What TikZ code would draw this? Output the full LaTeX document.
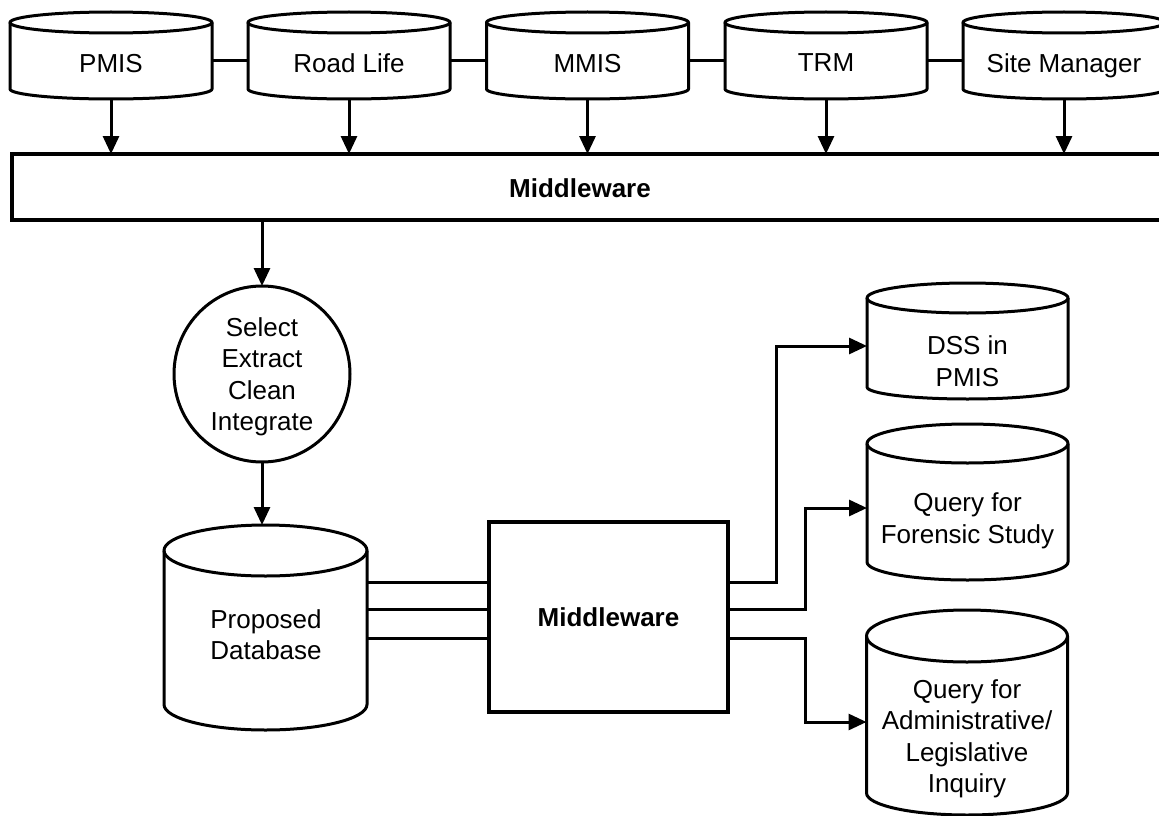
\documentclass[tikz,border=0pt]{standalone}
\usepackage{fontspec}
\setmainfont{Liberation Sans}
\usetikzlibrary{arrows.meta}

\tikzset{
  outline/.style={line width=3pt, line join=round},
  link/.style={line width=3pt},
  arr/.style={link, -{Triangle[length=18pt,width=16pt]}},
  txt/.style={inner sep=0pt, outer sep=0pt, align=center, text depth=0pt,
              font=\fontsize{26}{31.5}\selectfont},
  boldtxt/.style={txt, font=\fontsize{26}{31.5}\selectfont\bfseries},
}

% database drum: #1 name, #2 centre x, #3 half width, #4 top y, #5 bottom y,
% #6 radius of the top ellipse, #7 radius of the bottom arc
\newcommand\drum[7]{%
  \draw[outline] ({#2-#3},{#4+#6}) -- ({#2-#3},{#5-#7})
    arc[start angle=180, end angle=360, x radius=#3pt, y radius=#7pt]
    -- ({#2+#3},{#4+#6});
  \draw[outline] (#2,{#4+#6}) ellipse[x radius=#3pt, y radius=#6pt];
  \node[inner sep=0pt, outer sep=0pt, minimum width={2*#3},
        minimum height={#5-#4}] (#1) at (#2,{(#4+#5)/2}) {};
}

\begin{document}
\begin{tikzpicture}[x=1pt, y=-1pt]
\useasboundingbox (0,0) rectangle (1159,816);

% source systems
\drum{pmis}{111}{101}{12}{99}{10.5}{10}
\drum{road}{349}{101}{12}{99}{10.5}{10}
\drum{mmis}{587.5}{101}{12}{99}{10.5}{10}
\drum{trm}{826}{101}{12}{99}{10.5}{10}
\drum{site}{1064}{101}{12}{99}{10.5}{10}
\node[txt] (pmis-t) at (111,63) {PMIS};
\node[txt] (road-t) at (349,63) {Road Life};
\node[txt] (mmis-t) at (587.5,63) {MMIS};
\node[txt] (trm-t) at (826,63) {TRM};
\node[txt] (site-t) at (1064,63) {Site Manager};

\coordinate (t) at (0,61);
\draw[link] (pmis.east |- t) -- (road.west |- t);
\draw[link] (road.east |- t) -- (mmis.west |- t);
\draw[link] (mmis.east |- t) -- (trm.west |- t);
\draw[link] (trm.east |- t) -- (site.west |- t);

% upper middleware bar
\node[draw, line width=3.6pt, inner sep=0pt, outer sep=0pt,
      minimum width=1170, minimum height=66] (mw1) at (597,187) {};
\node[boldtxt] (mw1-t) at (580,188) {Middleware};

\foreach \s in {pmis,road,mmis,trm,site}
  \draw[arr] (\s.south) -- (\s.south |- mw1.north);

% extraction step
\node[draw, outline, circle, minimum size=176, txt] (sel) at (262,374)
  {Select\\Extract\\Clean\\Integrate};
\draw[arr] (mw1.south -| sel.north) -- (sel.north);

% proposed database
\drum{db}{265.5}{101.5}{525}{730}{25.5}{25.5}
\node[txt] (db-t) at (266,634.5) {Proposed\\Database};
\draw[arr] (sel.south) -- (sel.south |- db.north);

% lower middleware
\node[draw, line width=3.4pt, minimum width=239, minimum height=190, boldtxt]
  (mw2) at (608.5,617) {Middleware};

\coordinate (r1) at (0,582);
\coordinate (r2) at (0,609);
\coordinate (r3) at (0,638);
\draw[link] (db.east |- r1) -- (mw2.west |- r1);
\draw[link] (db.east |- r2) -- (mw2.west |- r2);
\draw[link] (db.east |- r3) -- (mw2.west |- r3);

% outputs
\drum{dss}{967.5}{100.5}{283}{399}{15}{12}
\drum{forensic}{967.5}{100.5}{424}{580}{19.5}{18}
\drum{admin}{967}{100.5}{610}{815}{26}{22}
\node[txt] (dss-t) at (967.5,361) {DSS in\\PMIS};
\node[txt] (forensic-t) at (967.5,518) {Query for\\Forensic Study};
\node[txt] (admin-t) at (967,736) {Query for\\Administrative/\\Legislative\\Inquiry};

\coordinate (k1) at (776,346);
\coordinate (k2) at (805,508);
\coordinate (k3) at (805,722);
\draw[arr] (mw2.east |- r1) -| (k1) -- (dss.west |- k1);
\draw[arr] (mw2.east |- r2) -| (k2) -- (forensic.west |- k2);
\draw[arr] (mw2.east |- r3) -| (k3) -- (admin.west |- k3);
\end{tikzpicture}
\end{document}
